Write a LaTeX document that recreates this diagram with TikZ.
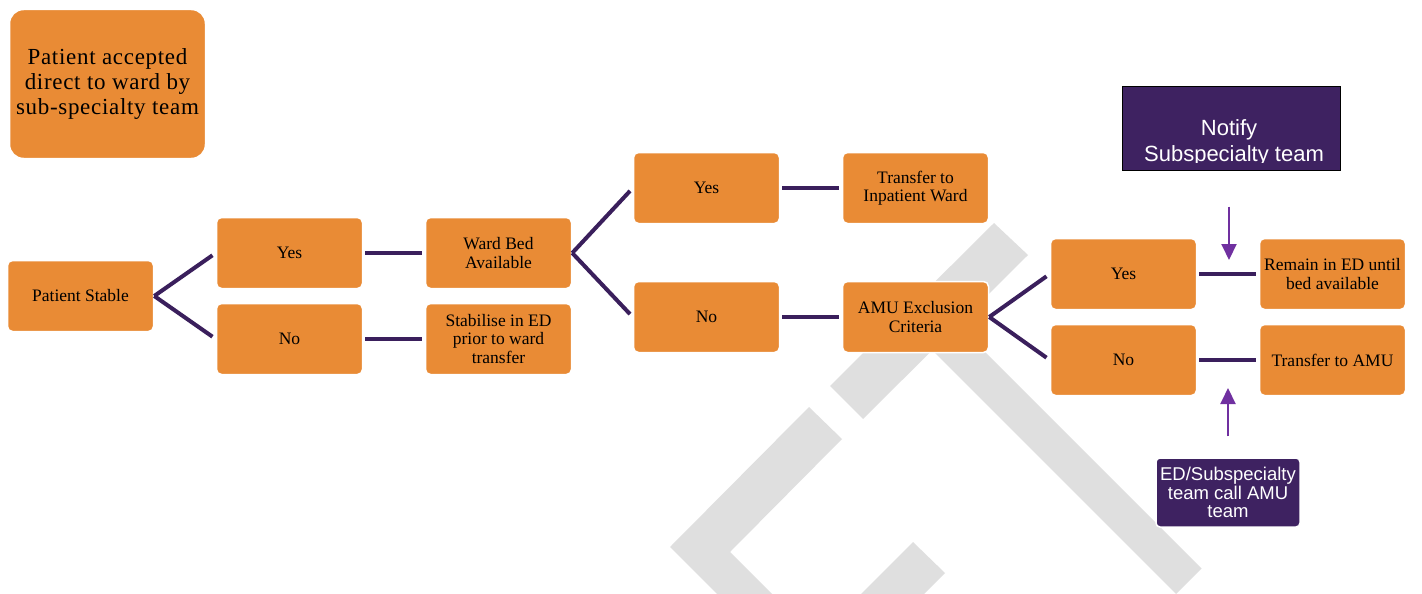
\documentclass[tikz,border=0pt]{standalone}
\usepackage{fontspec}
\setmainfont{Liberation Serif}
\setsansfont{Liberation Sans}
\usetikzlibrary{arrows.meta}

\definecolor{boxorange}{HTML}{E98B35}
\definecolor{linkpurple}{HTML}{3A1F5C}
\definecolor{notepurple}{HTML}{3E2261}
\definecolor{arrowviolet}{HTML}{7030A0}
\definecolor{markgray}{HTML}{DFDFDF}

\tikzset{
  stepbox/.style={rectangle, rounded corners=5pt, fill=boxorange, draw=white, line width=1.5pt,
    minimum width=146pt, minimum height=71pt, inner sep=1pt, align=center,
    font=\fontsize{17.5}{18.3}\selectfont},
  notebox/.style={rectangle, fill=notepurple, text=white, align=center, font=\sffamily\fontsize{18.5}{18.5}\selectfont},
  link/.style={draw=linkpurple, line width=4pt},
  callarrow/.style={draw=arrowviolet, line width=2pt, -{Triangle[width=15pt,length=16pt]}}
}

\begin{document}
\begin{tikzpicture}[x=1pt,y=-1pt]
    \useasboundingbox (0,0) rectangle (1422,594);

    % watermark behind the chart
    \fill[markgray] (994,223) -- (1028,255) -- (863,419) -- (830,386) -- cycle;
    \fill[markgray] (896,314) -- (921.5,288.5) -- (1201.5,568.5) -- (1176,594) -- cycle;
    \fill[markgray] (809,407) -- (670,547) -- (720,597) -- (775,597) -- (730,552) -- (842,439) -- cycle;
    \fill[markgray] (913,542) -- (945,573) -- (885,633) -- (853,602) -- cycle;

    \node[stepbox, rounded corners=14pt, minimum width=196pt, minimum height=149pt,
        font=\addfontfeatures{LetterSpace=3}\fontsize{23}{25}\selectfont] (accepted) at (107.5,84)
        {Patient accepted\\direct to ward by\\sub-specialty team};

    \node[stepbox] (stable) at (80.5,296) {Patient Stable};
    \node[stepbox] (yesA) at (289.5,253) {Yes};
    \node[stepbox] (noA) at (289.5,339) {No};
    \node[stepbox] (bed) at (498.5,253) {Ward Bed\\Available};
    \node[stepbox] (stabilise) at (498.5,339) {Stabilise in ED\\prior to ward\\transfer};
    \node[stepbox] (yesB) at (706.5,188) {Yes};
    \node[stepbox] (noB) at (706.5,317) {No};
    \node[stepbox] (inpatient) at (915.5,188) {Transfer to\\Inpatient Ward};
    \node[stepbox] (exclusion) at (915.5,317) {AMU Exclusion\\Criteria};
    \node[stepbox] (yesC) at (1123.5,274) {Yes};
    \node[stepbox] (noC) at (1123.5,360) {No};
    \node[stepbox] (remain) at (1332.5,274) {Remain in ED until\\bed available};
    \node[stepbox] (amu) at (1332.5,360) {Transfer to AMU};

    \draw[link, shorten >=4pt] (stable.east) -- (yesA.west);
    \draw[link, shorten >=4pt] (stable.east) -- (noA.west);
    \draw[link, shorten <=2pt, shorten >=3pt] (yesA) -- (bed);
    \draw[link, shorten <=2pt, shorten >=3pt] (noA) -- (stabilise);
    \draw[link, shorten >=4pt] (bed.east) -- (yesB.west);
    \draw[link, shorten >=4pt] (bed.east) -- (noB.west);
    \draw[link, shorten <=2pt, shorten >=3pt] (yesB) -- (inpatient);
    \draw[link, shorten <=2pt, shorten >=3pt] (noB) -- (exclusion);
    \draw[link, shorten >=4pt] (exclusion.east) -- (yesC.west);
    \draw[link, shorten >=4pt] (exclusion.east) -- (noC.west);
    \draw[link, shorten <=2pt, shorten >=3pt] (yesC) -- (remain);
    \draw[link, shorten <=2pt, shorten >=3pt] (noC) -- (amu);

    % purple notes
    \node[notebox, draw=black, line width=1pt, minimum width=218pt, minimum height=83pt] (notify) at (1231,128.5) {};
    \begin{scope}
        \clip (1122,88) rectangle (1340,162);
        \node[notebox, fill=none, font=\sffamily\fontsize{22}{26}\selectfont, anchor=base] (notifyA) at (1229,135) {Notify};
        \node[notebox, fill=none, font=\sffamily\fontsize{22}{26}\selectfont, anchor=base] (notifyB) at (1234,161) {Subspecialty team};
    \end{scope}
    \node[notebox, draw=white, line width=1.5pt, rounded corners=4pt, minimum width=144pt, minimum height=69pt, inner sep=1pt] (edcall) at (1228,492.5)
        {ED/Subspecialty\\team call AMU\\team};

    \coordinate (notifyTip) at (1229,260);
    \coordinate (callTip) at (1228,388);
    \draw[callarrow, shorten <=36pt] (notify.south -| notifyTip) -- (notifyTip);
    \draw[callarrow, shorten <=21pt] (edcall.north) -- (callTip);
\end{tikzpicture}
\end{document}
